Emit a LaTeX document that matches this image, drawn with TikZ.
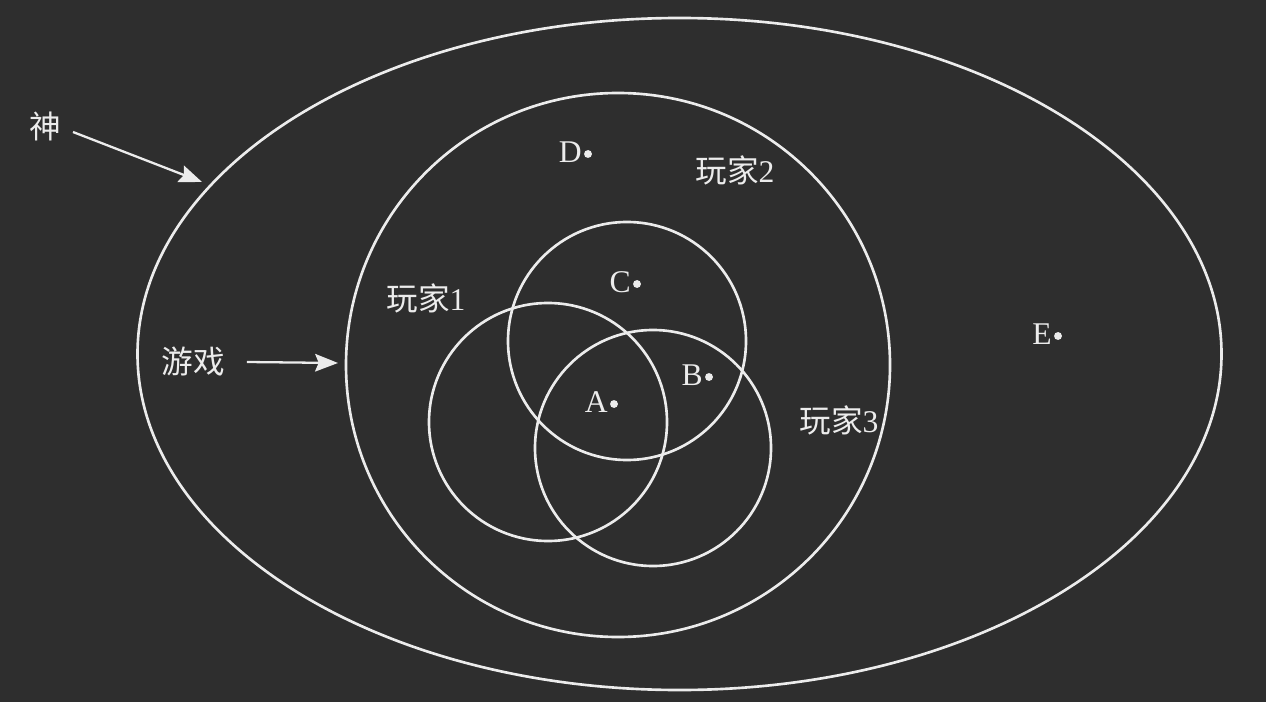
\documentclass[tikz,border=0pt]{standalone}
\usepackage{fontspec}
\setmainfont{Liberation Serif}
\newfontfamily\cjk{Noto Sans CJK SC}
\usetikzlibrary{arrows.meta,positioning}
\definecolor{board}{HTML}{2E2E2E}
\definecolor{chalk}{HTML}{ECECEC}
\begin{document}
\begin{tikzpicture}[
        x=0.02cm, y=-0.02cm,
        ring/.style = {draw = chalk, line width = 1.5pt},
        pt/.style = {circle, fill = chalk, inner sep = 0pt, minimum size = 4.5pt},
        letter/.style = {text = chalk, font = \fontsize{18}{18}\selectfont, inner sep = 0pt},
        word/.style = {text = chalk, font = \fontsize{18}{18}\selectfont, inner sep = 0pt},
        pointer/.style = {draw = chalk, line width = 1.3pt, -{Stealth[length=13pt, width=10pt, inset=2pt]}}
    ]
    \fill[board] (0,0) rectangle (1266,702);
    \useasboundingbox (0,0) rectangle (1266,702);
    % sets
    \draw[ring] (679.5,354) ellipse [x radius=542, y radius=336];
    \draw[ring] (618,365) circle (272);
    \draw[ring] (627,341) circle (119);
    \draw[ring] (548,422) circle (119);
    \draw[ring] (653,448) circle (118);
    % points
    \node[pt] (dD) at (588,154) {};
    \node[pt] (dC) at (637,284) {};
    \node[pt] (dB) at (709,377) {};
    \node[pt] (dA) at (614,404) {};
    \node[pt] (dE) at (1058,336) {};
    \node[letter, left=1pt of dD, yshift=1pt] (D) {D};
    \node[letter, left=1pt of dC, yshift=1pt] (C) {C};
    \node[letter, left=1pt of dB, yshift=1pt] (B) {B};
    \node[letter, left=1pt of dA, yshift=1pt] (A) {A};
    \node[letter, left=1pt of dE, yshift=1pt] (E) {E};
    % labels
    \node[word] (p1) at (426,298) {{\cjk 玩家}1};
    \node[word] (p2) at (735,170) {{\cjk 玩家}2};
    \node[word] (p3) at (839,420) {{\cjk 玩家}3};
    \node[word] (god) at (45,126) {\cjk 神};
    \node[word] (game) at (193,362) {\cjk 游戏};
    \coordinate (godtip) at (202,182);
    \coordinate (gametip) at (338,363);
    \draw[pointer] (73,132) -- (godtip);
    \draw[pointer] (game.east) ++(22,0) -- (gametip);
\end{tikzpicture}
\end{document}
